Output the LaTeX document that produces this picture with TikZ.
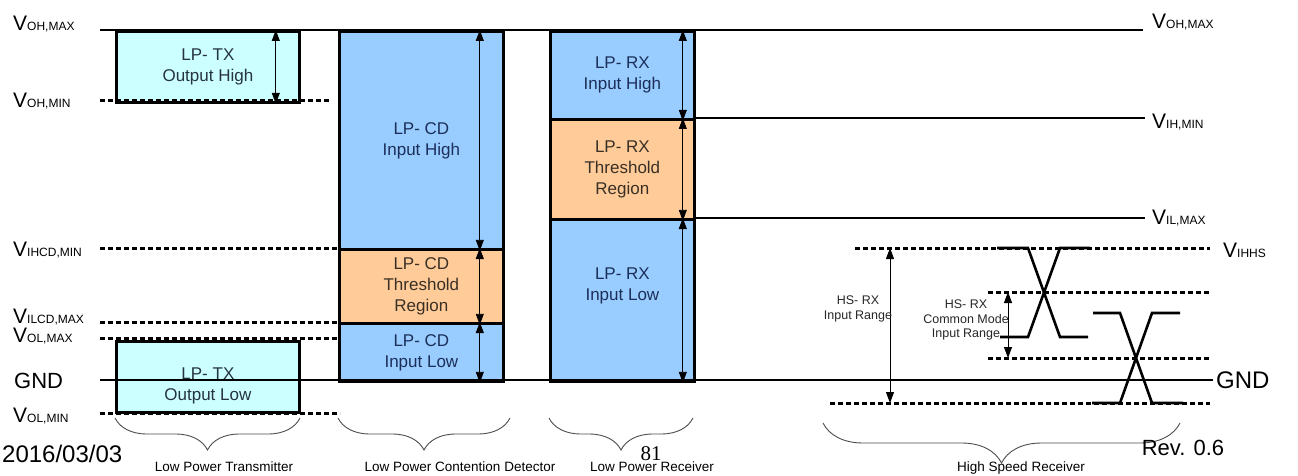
\documentclass[tikz,border=0pt]{standalone}
\usepackage{fontspec}
\setmainfont{Liberation Sans}
\newfontfamily\pagenumfont{Liberation Serif}
\usetikzlibrary{arrows.meta, decorations.pathreplacing}

\definecolor{txfill}{HTML}{CCFFFF}
\definecolor{rxfill}{HTML}{99CCFF}
\definecolor{thrfill}{HTML}{FFCC99}
\definecolor{bluetext}{HTML}{1C2F5A}
\definecolor{browntext}{HTML}{3A2F25}
\definecolor{tealtext}{HTML}{263340}

\newcommand{\volt}[1]{V{\fontsize{12}{12}\selectfont #1}}

\tikzstyle{regionbox} = [
    rectangle,
    draw=black,
    line width=2.8pt,
    anchor=north west,
    align=center,
    inner sep=0pt,
    font=\fontsize{17}{21}\selectfont
]
\tikzstyle{txbox} = [regionbox, fill=txfill, text=tealtext, minimum width=183pt, minimum height=71pt]
\tikzstyle{highbox} = [regionbox, fill=rxfill, text=bluetext]
\tikzstyle{thrbox} = [regionbox, fill=thrfill, text=browntext]
\tikzstyle{boxtext} = [align=center, font=\fontsize{17}{21}\selectfont]
\tikzstyle{solidlevel} = [line width=2.6pt]
\tikzstyle{dashlevel} = [line width=3pt, dash pattern=on 5pt off 3pt]
\tikzstyle{dimarrow} = [line width=0.9pt, {Triangle[width=8pt,length=11pt]}-{Triangle[width=8pt,length=11pt]}]
\tikzstyle{bracedown} = [decorate, decoration={brace, mirror, amplitude=32pt}, black!70, line width=0.9pt]
\tikzstyle{vlabel} = [anchor=west, inner sep=0pt, font=\fontsize{21}{21}\selectfont]
\tikzstyle{partname} = [font=\fontsize{13.5}{14}\selectfont]
\tikzstyle{hsname} = [align=center, text=black!85, font=\fontsize{12.5}{14.5}\selectfont]

\begin{document}
\begin{tikzpicture}[x=1pt, y=-1pt]
\useasboundingbox (0,0) rectangle (1298,476);

% low power transmitter
\node (txhigh) [txbox] at (115,30) {LP- TX\\Output High};
\node (txlow) [txbox] at (115,340) {};
\node (txlowtext) [boxtext, text=tealtext] at ([yshift=-9pt]txlow.center) {LP- TX\\Output Low};

% low power contention detector
\node (cdhigh) [highbox, minimum width=164pt, minimum height=218pt] at (338,30) {LP- CD\\Input High};
\node (cdthr) [thrbox, minimum width=164pt, minimum height=74pt] at (338,248) {LP- CD\\Threshold\\Region};
\node (cdlow) [highbox, minimum width=164pt, minimum height=58pt] at (338,322) {LP- CD\\Input Low};

% low power receiver
\node (rxhigh) [highbox, minimum width=144pt, minimum height=88pt] at (549,30) {LP- RX\\Input High};
\node (rxthr) [thrbox, minimum width=144pt, minimum height=100pt] at (549,118) {LP- RX\\Threshold\\Region};
\node (rxlow) [highbox, minimum width=144pt, minimum height=162pt] at (549,218) {};
\node (rxlowtext) [boxtext, text=bluetext] at ([yshift=14pt]rxlow.center) {LP- RX\\Input Low};

% levels
\draw [solidlevel] (100,30) -- (1143,30);
\draw [solidlevel] (693,118) -- (1145,118);
\draw [solidlevel] (693,218) -- (1145,218);
\draw [solidlevel] (100,380) -- (1213,380);
\draw [dashlevel] (100,101) -- (330,101);
\draw [dashlevel] (100,248) -- (338,248);
\draw [dashlevel] (100,322) -- (338,322);
\draw [dashlevel] (100,338) -- (338,338);
\draw [dashlevel] (100,413) -- (340,413);

% high speed receiver levels
\draw [dashlevel] (855,248) -- (1210,248);
\draw [dashlevel] (988,292) -- (1210,292);
\draw [dashlevel] (988,358) -- (1210,358);
\draw [dashlevel] (830,403) -- (1210,403);

% differential swings
\draw [solidlevel] (997,248) -- (1028,248) -- (1060,337) -- (1088,337);
\draw [solidlevel] (1000,337) -- (1028,337) -- (1060,248) -- (1090,248);
\draw [solidlevel] (1093,313) -- (1120,313) -- (1152,403) -- (1183,403);
\draw [solidlevel] (1092,403) -- (1120,403) -- (1152,313) -- (1180,313);

% ranges
\draw [dimarrow] ([xshift=-25pt]txhigh.north east) -- ([xshift=-25pt]txhigh.south east);
\draw [dimarrow] ([xshift=-25pt]cdhigh.north east) -- ([xshift=-25pt]cdhigh.south east);
\draw [dimarrow] ([xshift=-25pt]cdthr.north east) -- ([xshift=-25pt]cdthr.south east);
\draw [dimarrow] ([xshift=-25pt]cdlow.north east) -- ([xshift=-25pt]cdlow.south east);
\draw [dimarrow] ([xshift=-13pt]rxhigh.north east) -- ([xshift=-13pt]rxhigh.south east);
\draw [dimarrow] ([xshift=-13pt]rxthr.north east) -- ([xshift=-13pt]rxthr.south east);
\draw [dimarrow] ([xshift=-13pt]rxlow.north east) -- ([xshift=-13pt]rxlow.south east);

\coordinate (hstop) at (890,248);
\coordinate (hsbottom) at (890,403);
\coordinate (cmtop) at (1008,292);
\coordinate (cmbottom) at (1008,358);
\draw [dimarrow] (hstop) -- (hsbottom);
\draw [dimarrow] (cmtop) -- (cmbottom);

\node (hsrange) [hsname] at (858,309) {HS- RX\\Input Range};
\node (hscommon) [hsname] at (966,320) {HS- RX\\Common Mode\\Input Range};

% level names, left
\node (lohmax) [vlabel] at (13,24) {\volt{OH,MAX}};
\node (lohmin) [vlabel] at (13,101) {\volt{OH,MIN}};
\node (lihcd) [vlabel] at (13,250) {\volt{IHCD,MIN}};
\node (lilcd) [vlabel] at (13,317) {\volt{ILCD,MAX}};
\node (lolmax) [vlabel] at (13,336) {\volt{OL,MAX}};
\node (lgnd) [vlabel, font=\fontsize{22}{22}\selectfont] at (14,381) {GND};
\node (lolmin) [vlabel] at (13,416) {\volt{OL,MIN}};

% level names, right
\node (rohmax) [vlabel] at (1152,22) {\volt{OH,MAX}};
\node (rihmin) [vlabel] at (1152,122) {\volt{IH,MIN}};
\node (rilmax) [vlabel] at (1152,218) {\volt{IL,MAX}};
\node (rihhs) [vlabel] at (1223,250) {\volt{IHHS}};
\node (rgnd) [vlabel, font=\fontsize{24}{24}\selectfont] at (1216,380) {GND};

% groups
\draw [bracedown] (115,418) -- (300,418);
\draw [bracedown] (338,418) -- (510,418);
\draw [bracedown] (549,418) -- (693,418);
\draw [bracedown, decoration={amplitude=40pt}] (823,423) -- (1180,423);

\node (txname) [partname] at (224,467) {Low Power Transmitter};
\node (cdname) [partname] at (460,467) {Low Power Contention Detector};
\node (rxname) [partname] at (652,467) {Low Power Receiver};
\node (hsname) [partname] at (1021,468) {High Speed Receiver};

% page footer
\node (date) [anchor=west, inner sep=0pt, font=\fontsize{24}{24}\selectfont] at (2,454) {2016/03/03};
\node (pagenum) [font=\pagenumfont\fontsize{21}{21}\selectfont] at (651,454) {81};
\node (rev) [font=\fontsize{22}{22}\selectfont] at (1183,448) {Rev. 0.6};

\end{tikzpicture}
\end{document}
